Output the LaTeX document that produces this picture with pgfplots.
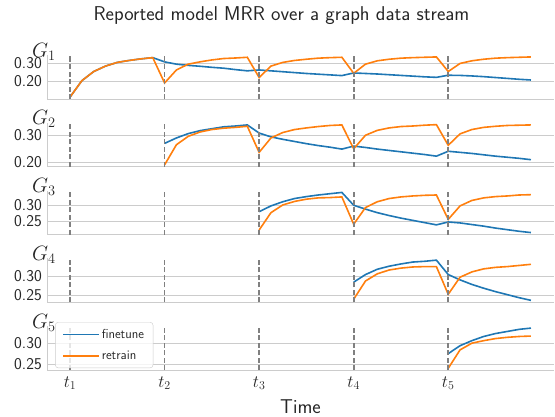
\documentclass[border=0pt]{standalone}
\usepackage{fontspec}
\renewcommand{\familydefault}{\sfdefault}
\usepackage{pgfplots}
\pgfplotsset{compat=1.18}

\definecolor{cfine}{HTML}{1F77B4}
\definecolor{cretr}{HTML}{FF7F0E}
\definecolor{gridc}{HTML}{CCCCCC}
\definecolor{txt}{HTML}{262626}
\definecolor{vlc}{HTML}{808080}

% G1 .. G5: x = time step, f = finetune, r = retrain
\pgfplotstableread{
x f r
0 0.109 0.109
1 0.202 0.202
2 0.254 0.254
3 0.285 0.285
4 0.306 0.306
5 0.317 0.317
6 0.326 0.326
7 0.333 0.333
8 0.309 0.189
9 0.296 0.263
10 0.289 0.296
11 0.284 0.309
12 0.278 0.320
13 0.273 0.328
14 0.265 0.331
15 0.258 0.335
16 0.263 0.220
17 0.258 0.285
18 0.253 0.306
19 0.248 0.317
20 0.243 0.324
21 0.239 0.330
22 0.235 0.333
23 0.231 0.335
24 0.246 0.244
25 0.243 0.296
26 0.240 0.315
27 0.236 0.324
28 0.232 0.330
29 0.228 0.333
30 0.224 0.335
31 0.221 0.337
32 0.233 0.254
33 0.232 0.300
34 0.229 0.315
35 0.225 0.324
36 0.220 0.330
37 0.215 0.333
38 0.210 0.335
39 0.206 0.337
}\gone
\pgfplotstableread{
x f r
8 0.269 0.190
9 0.289 0.264
10 0.305 0.295
11 0.316 0.311
12 0.323 0.320
13 0.330 0.325
14 0.333 0.328
15 0.337 0.332
16 0.307 0.236
17 0.293 0.289
18 0.284 0.309
19 0.276 0.320
20 0.268 0.326
21 0.261 0.331
22 0.255 0.335
23 0.248 0.337
24 0.259 0.249
25 0.254 0.299
26 0.248 0.317
27 0.243 0.326
28 0.238 0.331
29 0.233 0.333
30 0.228 0.336
31 0.222 0.338
32 0.240 0.262
33 0.236 0.304
34 0.232 0.320
35 0.227 0.328
36 0.222 0.332
37 0.218 0.335
38 0.214 0.336
39 0.209 0.337
}\gtwo
\pgfplotstableread{
x f r
16 0.280 0.223
17 0.298 0.277
18 0.311 0.301
19 0.321 0.312
20 0.327 0.319
21 0.332 0.323
22 0.336 0.324
23 0.340 0.326
24 0.300 0.241
25 0.288 0.293
26 0.277 0.311
27 0.268 0.321
28 0.260 0.326
29 0.253 0.329
30 0.246 0.331
31 0.239 0.332
32 0.248 0.256
33 0.245 0.298
34 0.240 0.315
35 0.235 0.323
36 0.229 0.327
37 0.224 0.329
38 0.219 0.332
39 0.215 0.333
}\gthree
\pgfplotstableread{
x f r
24 0.284 0.239
25 0.304 0.287
26 0.318 0.306
27 0.326 0.316
28 0.332 0.321
29 0.337 0.324
30 0.339 0.325
31 0.342 0.325
32 0.304 0.252
33 0.290 0.297
34 0.278 0.311
35 0.268 0.319
36 0.259 0.323
37 0.251 0.325
38 0.243 0.328
39 0.236 0.331
}\gfour
\pgfplotstableread{
x f r
32 0.275 0.240
33 0.294 0.284
34 0.306 0.300
35 0.316 0.306
36 0.323 0.311
37 0.328 0.314
38 0.333 0.316
39 0.336 0.317
}\gfive

\pgfplotsset{
  gax/.style={
    scale only axis, width=507pt, height=44pt,
    xmin=-1.95, xmax=40.95,
    axis lines=left,
    axis line style={-, draw=gridc, line width=1pt},
    ymajorgrids, grid style={draw=gridc, line width=0.9pt},
    xtick={0,8,16,24,32}, xticklabels={},
    major tick length=0pt,
    yticklabel style={font=\fontsize{16.5}{19}\selectfont, text=txt, inner sep=2pt, xshift=-3pt},
    /pgf/number format/fixed,
    /pgf/number format/fixed zerofill,
    /pgf/number format/precision=2,
    /pgf/number format/assume math mode=true,
    clip=false,
  },
  fine/.style={cfine, line width=1.6pt},
  retr/.style={cretr, line width=1.6pt},
  vl/.style={vlc, line width=1.8pt, dash pattern=on 5pt off 2.5pt, forget plot},
}
\newcommand{\glabel}[1]{\node[anchor=base west, inner sep=0pt, text=txt, font=\fontsize{20}{24}\selectfont] at (rel axis cs:0,1) [xshift=-15pt, yshift=-2pt] {$G_#1$};}

\begin{document}
\begin{tikzpicture}
\path[use as bounding box] (0,0) rectangle (555pt,416pt);

\node[anchor=base, text=txt, font=\fontsize{20}{24}\selectfont] at (281.5pt,395.5pt) {Reported model MRR over a graph data stream};

\begin{axis}[gax, at={(47pt,317pt)}, anchor=south west,
  ymin=0.098, ymax=0.348, ytick={0.20,0.30}]
  \addplot[fine] table[x=x, y=f] {\gone};
  \addplot[retr] table[x=x, y=r] {\gone};
  \pgfplotsinvokeforeach{0,8,16,24,32}{\addplot[vl] coordinates {(#1,0.098) (#1,0.348)};}
  \glabel{1}
\end{axis}

\begin{axis}[gax, at={(47pt,249.25pt)}, anchor=south west,
  ymin=0.183, ymax=0.345, ytick={0.20,0.30}]
  \addplot[fine] table[x=x, y=f] {\gtwo};
  \addplot[retr] table[x=x, y=r] {\gtwo};
  \pgfplotsinvokeforeach{0,8,16,24,32}{\addplot[vl] coordinates {(#1,0.183) (#1,0.345)};}
  \glabel{2}
\end{axis}

\begin{axis}[gax, at={(47pt,181.5pt)}, anchor=south west,
  ymin=0.209, ymax=0.346, ytick={0.25,0.30}]
  \addplot[fine] table[x=x, y=f] {\gthree};
  \addplot[retr] table[x=x, y=r] {\gthree};
  \pgfplotsinvokeforeach{0,8,16,24,32}{\addplot[vl] coordinates {(#1,0.209) (#1,0.346)};}
  \glabel{3}
\end{axis}

\begin{axis}[gax, at={(47pt,113.75pt)}, anchor=south west,
  ymin=0.231, ymax=0.347, ytick={0.25,0.30}]
  \addplot[fine] table[x=x, y=f] {\gfour};
  \addplot[retr] table[x=x, y=r] {\gfour};
  \pgfplotsinvokeforeach{0,8,16,24,32}{\addplot[vl] coordinates {(#1,0.231) (#1,0.347)};}
  \glabel{4}
\end{axis}

\begin{axis}[gax, at={(47pt,46pt)}, anchor=south west,
  ymin=0.236, ymax=0.341, ytick={0.25,0.30},
  xticklabels={$t_1$,$t_2$,$t_3$,$t_4$,$t_5$},
  xticklabel style={font=\fontsize{16.5}{19}\selectfont, text=txt, yshift=-3pt},
  xlabel={Time},
  xlabel style={at={(axis description cs:0.5,0)}, anchor=base, yshift=-43pt,
    font=\fontsize{20}{24}\selectfont, text=txt},
  legend cell align=left,
  legend image post style={xscale=2.1},
  legend style={at={(0.016,1.09)}, anchor=north west, draw=gridc,
    fill=white, fill opacity=0.8, draw opacity=1, text opacity=1,
    rounded corners=3pt, font=\fontsize{13}{15}\selectfont, text=txt,
    inner xsep=7pt, inner ysep=5pt, row sep=7pt}]
  \addplot[fine] table[x=x, y=f] {\gfive};
  \addlegendentry{finetune}
  \addplot[retr] table[x=x, y=r] {\gfive};
  \addlegendentry{retrain}
  \pgfplotsinvokeforeach{0,8,16,24,32}{\addplot[vl] coordinates {(#1,0.236) (#1,0.341)};}
  \glabel{5}
\end{axis}
\end{tikzpicture}
\end{document}
